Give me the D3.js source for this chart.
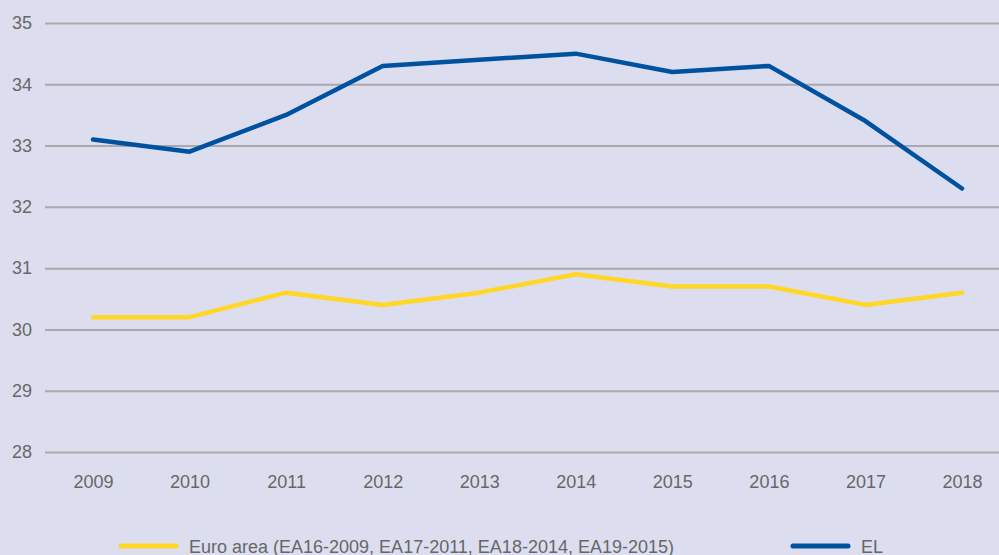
<!DOCTYPE html>
<html>
<head>
<meta charset="utf-8">
<script src="https://cdn.jsdelivr.net/npm/d3@7"></script>
<style>
  html, body { margin: 0; padding: 0; background: #dcdeef; }
  svg { display: block; font-family: "Liberation Sans", Arial, sans-serif; }
</style>
</head>
<body>
<svg id="chart" width="999" height="555"></svg>
<script>
const years = ["2009", "2010", "2011", "2012", "2013", "2014", "2015", "2016", "2017", "2018"];
const euroArea = [30.2, 30.2, 30.6, 30.4, 30.6, 30.9, 30.7, 30.7, 30.4, 30.6];
const greece = [33.1, 32.9, 33.5, 34.3, 34.4, 34.5, 34.2, 34.3, 33.4, 32.3];
const yTicks = [28, 29, 30, 31, 32, 33, 34, 35];
const seriesNames = ["Euro area (EA16-2009, EA17-2011, EA18-2014, EA19-2015)", "EL"];

const svg = d3.select("#chart");
const W = 999, H = 555;
svg.append("rect").attr("width", W).attr("height", H).attr("fill", "#dcdeef");

const plotLeft = 45, plotRight = 999;
const x = d3.scalePoint().domain(years).range([93, 962]);
const y = d3.scaleLinear().domain([28, 35]).range([452, 23]);

// horizontal grid
const yAxis = d3.axisLeft(y).tickValues(yTicks).tickFormat(d3.format("d"))
  .tickSize(-(plotRight - plotLeft)).tickPadding(13);
const gy = svg.append("g").attr("transform", `translate(${plotLeft},0)`).call(yAxis);
gy.select(".domain").remove();
gy.selectAll(".tick line").attr("stroke", "#a9a9ae").attr("stroke-width", 2);
gy.selectAll(".tick text").attr("fill", "#676767").attr("font-size", 18);

// year labels
const xAxis = d3.axisBottom(x).tickSize(0).tickPadding(0);
const gx = svg.append("g").attr("transform", `translate(0,475)`).call(xAxis);
gx.select(".domain").remove();
gx.selectAll(".tick text").attr("fill", "#676767").attr("font-size", 18).attr("dy", "0.71em");

const line = d3.line().x((d, i) => x(years[i])).y(d => y(d));

const colors = ["#ffd724", "#0051a0"];
[euroArea, greece].forEach((s, k) => {
  svg.append("path").datum(s)
    .attr("d", line)
    .attr("fill", "none")
    .attr("stroke", colors[k])
    .attr("stroke-width", 4.5)
    .attr("stroke-linejoin", "round")
    .attr("stroke-linecap", "round");
});

// legend
const legendItems = [
  { x0: 121, name: seriesNames[0], color: colors[0] },
  { x0: 793, name: seriesNames[1], color: colors[1] }
];
const lg = svg.append("g");
legendItems.forEach(it => {
  lg.append("line").attr("x1", it.x0).attr("x2", it.x0 + 55)
    .attr("y1", 546).attr("y2", 546)
    .attr("stroke", it.color).attr("stroke-width", 5).attr("stroke-linecap", "round");
  lg.append("text").attr("x", it.x0 + 68).attr("y", 553)
    .attr("fill", "#676767").attr("font-size", 18).text(it.name);
});
</script>
</body>
</html>
